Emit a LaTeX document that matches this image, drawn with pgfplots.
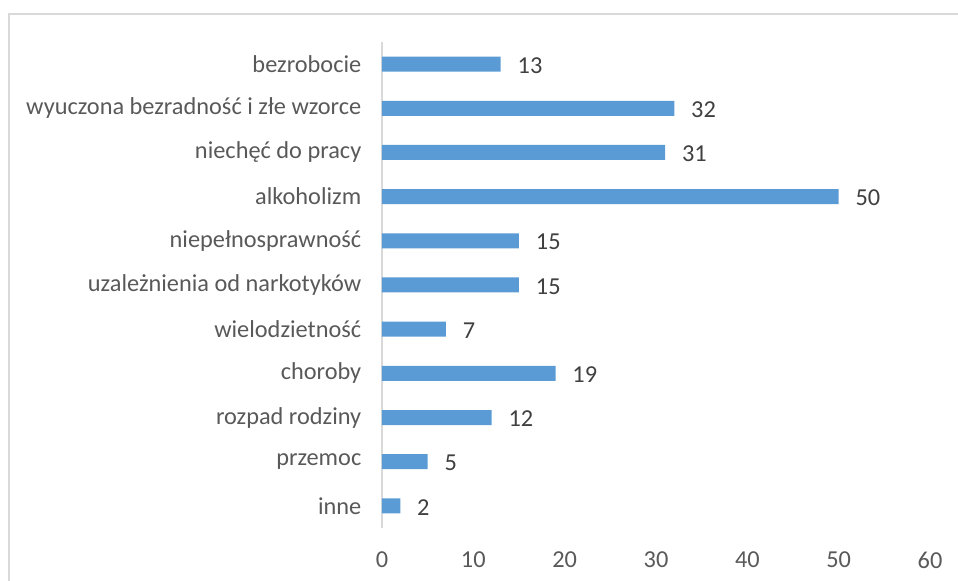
\documentclass[border=0pt]{standalone}
\usepackage{pgfplots}
\pgfplotsset{compat=1.18}
\usepackage{fontspec}
\setmainfont{Carlito}
\definecolor{barblue}{HTML}{5B9BD5}
\definecolor{ticktext}{HTML}{595959}
\definecolor{lbltext}{HTML}{404040}
\definecolor{framegray}{HTML}{D9D9D9}
\begin{document}
\begin{tikzpicture}
\useasboundingbox (0pt,0pt) rectangle (718.5pt,435.75pt);
\draw[framegray, line width=2.2pt] (6.75pt,-20pt) -- (6.75pt,425.25pt) -- (740pt,425.25pt);
\begin{axis}[
  at={(286.5pt,39.75pt)}, anchor=south west,
  scale only axis,
  width=411pt, height=364.5pt,
  xbar, bar width=11.25pt,
  xmin=0, xmax=60, ymin=-0.5, ymax=10.5,
  xtick={0,10,...,60},
  ytick={0,...,10},
  yticklabels={inne,przemoc,rozpad rodziny,choroby,wielodzietność,uzależnienia od narkotyków,niepełnosprawność,alkoholizm,niechęć do pracy,wyuczona bezradność i złe wzorce,bezrobocie},
  axis y line*=left,
  axis x line*=bottom,
  x axis line style={draw=none},
  y axis line style={draw=framegray, line width=0.8pt, -},
  major tick length=0pt,
  tick label style={font=\fontsize{18.25}{21}\selectfont, text=ticktext},
  /pgf/number format/assume math mode=true,
  yticklabel style={xshift=-12pt},
  xticklabel style={yshift=-14.5pt},
  nodes near coords,
  every node near coord/.append style={font=\fontsize{18.25}{21}\selectfont, text=lbltext, anchor=west, inner sep=0pt, xshift=12.5pt, yshift=-1pt},
  clip=false,
]
\addplot[fill=barblue, draw=none] coordinates {
  (2,0) (5,1) (12,2) (19,3) (7,4) (15,5) (15,6) (50,7) (31,8) (32,9) (13,10)
};
\end{axis}
\end{tikzpicture}
\end{document}
